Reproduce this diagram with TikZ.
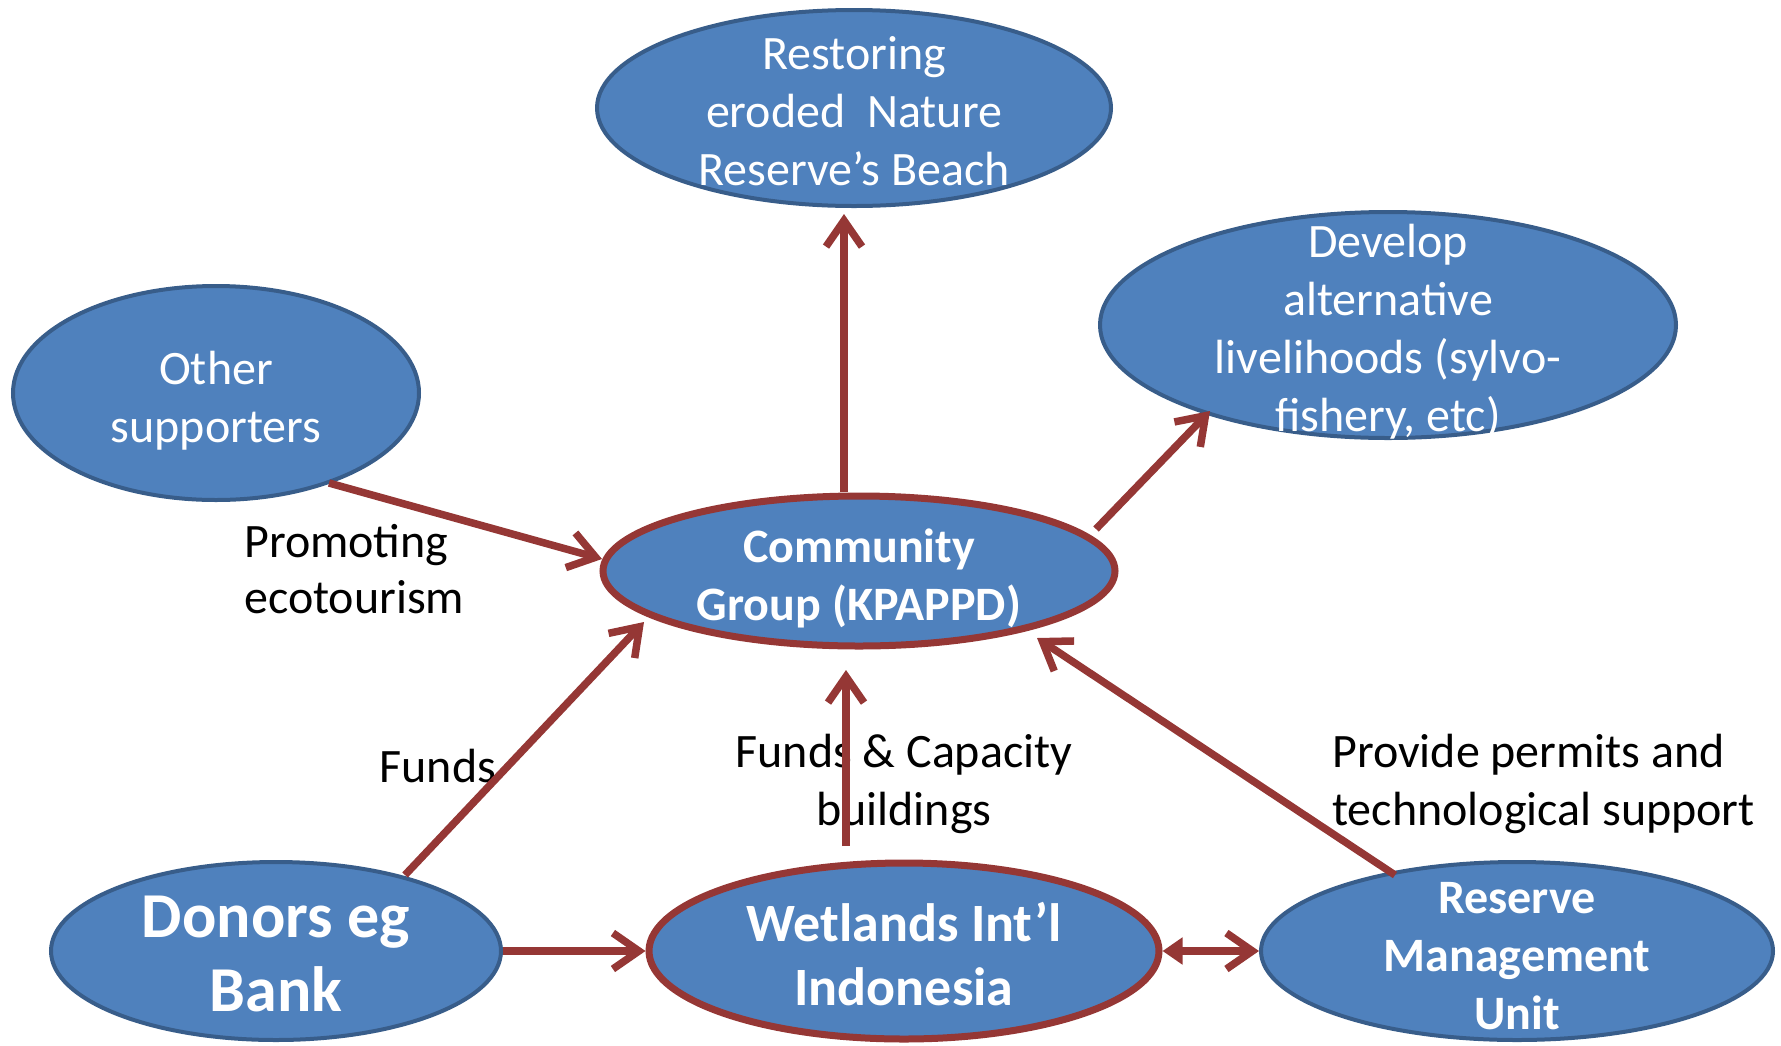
\documentclass[tikz,border=0pt]{standalone}
\usepackage{fontspec}
\setmainfont{Carlito}
\usetikzlibrary{shapes.geometric,arrows.meta,calc}
\definecolor{fillblue}{HTML}{4F81BD}
\definecolor{lineblue}{HTML}{385D8A}
\definecolor{darkred}{HTML}{953735}
\begin{document}
\begin{tikzpicture}[x=1pt,y=-1pt,
  blob/.style={ellipse, fill=fillblue, draw=lineblue, line width=4pt, inner sep=0pt},
  redblob/.style={blob, draw=darkred, line width=7pt},
  btxt/.style={text=white, align=center, inner sep=0pt, font=\fontsize{48}{58}\selectfont},
  bbold/.style={btxt, font=\bfseries\fontsize{48}{58}\selectfont},
  arr/.style={draw=darkred, line width=7.5pt, -{Straight Barb[length=26pt,width=36pt,line width=7.5pt]}},
  lab/.style={text=black, align=left, inner sep=0pt, font=\fontsize{48}{58}\selectfont}]
\useasboundingbox (0,0) rectangle (1781,1045);

\node[blob, minimum width=514pt, minimum height=196pt,
  label={[btxt, yshift=-3pt]center:{Restoring\\eroded\ \ Nature\\Reserve’s Beach}}] (rest) at (854,108) {};
\node[blob, minimum width=576pt, minimum height=226pt,
  label={[btxt, yshift=-7pt]center:{Develop\\alternative\\livelihoods (sylvo-\\fishery, etc)}}] (dev) at (1388,325) {};
\node[blob, minimum width=406pt, minimum height=214pt,
  label={[btxt, yshift=-8pt]center:{Other\\supporters}}] (other) at (216,393) {};
\node[redblob, minimum width=512pt, minimum height=150pt,
  label={[bbold, yshift=-7pt]center:{Community\\Group (KPAPPD)}}] (comm) at (859,571) {};
\node[blob, minimum width=450pt, minimum height=178pt,
  label={[btxt, yshift=-3pt, font=\bfseries\fontsize{64}{74}\selectfont]center:{Donors eg\\Bank}}] (donors) at (276,951) {};
\node[redblob, minimum width=510pt, minimum height=176pt,
  label={[btxt, yshift=-3pt, font=\bfseries\fontsize{54}{64}\selectfont]center:{Wetlands Int’l\\Indonesia}}] (wet) at (904,951) {};
\node[blob, minimum width=512pt, minimum height=178pt,
  label={[bbold, yshift=-5pt]center:{Reserve\\Management\\Unit}}] (res) at (1517,951) {};

\node[lab, anchor=west, font=\fontsize{48}{56}\selectfont] (l1) at (244,569) {Promoting\\ecotourism};
\node[lab] (l2) at (438,766) {Funds};
\node[lab, align=center] (l3) at (904,784) {Funds \& Capacity\\buildings};
\node[lab, anchor=west] (l4) at (1332,784) {Provide permits and\\technological support};

\draw[arr] ($(comm.center)+(-15,-79)$) -- ($(rest.center)+(-10,106)$);
\draw[arr] ($(comm.center)+(237,-42)$) -- ($(dev.center)+(-178,86)$);
\draw[arr] ($(other.center)+(113,90)$) -- ($(comm.center)+(-257,-12)$);
\draw[arr] ($(donors.center)+(129,-76)$) -- ($(comm.center)+(-215,51)$);
\draw[arr] ($(wet.center)+(-58,-105)$) -- ($(comm.center)+(-13,99)$);
\draw[arr] ($(res.center)+(-122,-76)$) -- ($(comm.center)+(178,67)$);
\draw[arr] (donors.east) -- (wet.west);
\draw[arr, {Triangle[length=20pt,width=26pt]}-{Straight Barb[length=26pt,width=36pt,line width=7.5pt]}] (wet.east) -- (res.west);
\end{tikzpicture}
\end{document}
